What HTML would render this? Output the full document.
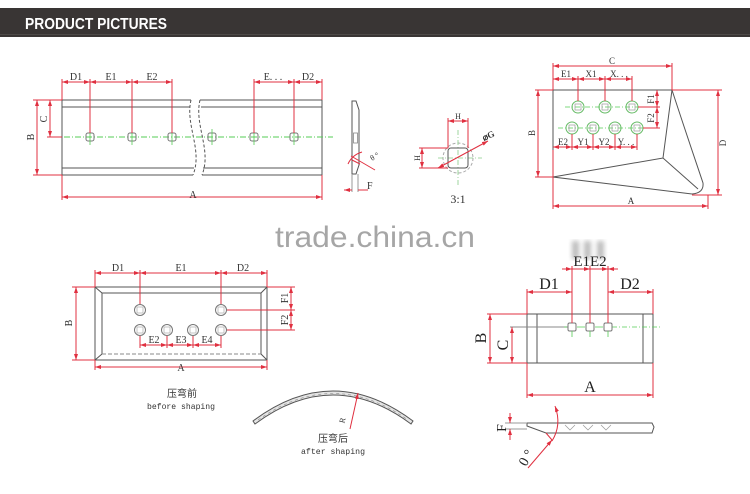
<!DOCTYPE html>
<html><head><meta charset="utf-8"><style>
html,body{margin:0;padding:0;background:#fff;}
svg{display:block;}
</style></head><body>
<svg width="750" height="494" viewBox="0 0 750 494" xmlns="http://www.w3.org/2000/svg">
<defs>
<marker id="a" viewBox="0 0 6 4" refX="6" refY="2" markerWidth="6" markerHeight="4" orient="auto-start-reverse" markerUnits="userSpaceOnUse"><path d="M0,0 L6,2 L0,4z" fill="#e03040"/></marker>
<filter id="bl"><feGaussianBlur stdDeviation="2.5"/></filter>
</defs>
<rect width="750" height="494" fill="#fff"/>
<!-- header -->
<rect x="0" y="8" width="750" height="29" fill="#393534"/>
<line x1="0" y1="34.5" x2="750" y2="34.5" stroke="#4d4947" stroke-width="1"/>
<text x="25" y="29" font-family="Liberation Sans, sans-serif" font-weight="bold" font-size="16" fill="#fff" textLength="142" lengthAdjust="spacingAndGlyphs">PRODUCT PICTURES</text>

<!-- watermark -->
<text x="275" y="247" font-family="Liberation Sans, sans-serif" font-size="30" fill="#a6a6a6" textLength="200" lengthAdjust="spacingAndGlyphs">trade.china.cn</text>
<g filter="url(#bl)" opacity="0.55">
<rect x="572" y="241" width="7" height="18" fill="#888"/>
<rect x="584" y="241" width="7" height="18" fill="#888"/>
<rect x="597" y="241" width="7" height="18" fill="#888"/>
</g>

<g font-family="Liberation Serif, serif" fill="#333">
<!-- ============ Diagram 1: long plate ============ -->
<g stroke="#555" stroke-width="1" fill="none">
<path d="M62,100 H191 M200,100 H322 M62,107 H190 M201,107 H322 M62,168 H194 M203,168 H322 M62,175 H193 M202,175 H322 M62,100 V175 M322,100 V175"/>
<path d="M191,100 C185,125 203,150 193,175" stroke-dasharray="3,2"/>
<path d="M200,100 C194,125 212,150 202,175" stroke-dasharray="3,2"/>
</g>
<line x1="64" y1="137" x2="333" y2="137" stroke="#5c5" stroke-width="1" stroke-dasharray="6,2,1,2"/>
<g stroke="#777" stroke-width="1" fill="none">
<rect x="86" y="133" width="8" height="8" rx="2"/><rect x="128" y="133" width="8" height="8" rx="2"/><rect x="168" y="133" width="8" height="8" rx="2"/>
<rect x="208" y="133" width="8" height="8" rx="2"/><rect x="250" y="133" width="8" height="8" rx="2"/><rect x="290" y="133" width="8" height="8" rx="2"/>
</g>
<g stroke="#5c5" stroke-width="0.8"><path d="M90,129 V145 M132,129 V145 M172,129 V145 M212,129 V145 M254,129 V145 M294,129 V145"/></g>
<g stroke="#e03040" stroke-width="1" fill="none">
<path d="M62,79 V100 M322,79 V100 M90,79 V133 M132,79 V133 M172,79 V133 M254,79 V133 M294,79 V133"/>
<path d="M33,100 H62 M33,175 H62 M47,137 H62 M62,175 V200 M322,175 V200"/>
<path d="M62,82 H90" marker-start="url(#a)" marker-end="url(#a)"/>
<path d="M90,82 H132" marker-start="url(#a)" marker-end="url(#a)"/>
<path d="M132,82 H172" marker-start="url(#a)" marker-end="url(#a)"/>
<path d="M254,82 H294" marker-start="url(#a)" marker-end="url(#a)"/>
<path d="M294,82 H322" marker-start="url(#a)" marker-end="url(#a)"/>
<path d="M37,100 V175" marker-start="url(#a)" marker-end="url(#a)"/>
<path d="M50,100 V137" marker-start="url(#a)" marker-end="url(#a)"/>
<path d="M62,197 H322" marker-start="url(#a)" marker-end="url(#a)"/>
</g>
<g font-size="10" text-anchor="middle">
<text x="76" y="80">D1</text><text x="111" y="80">E1</text><text x="152" y="80">E2</text>
<text x="273" y="80">E. . .</text><text x="308" y="80">D2</text>
<text x="193" y="198">A</text>
<text transform="translate(34,137) rotate(-90)">B</text>
<text transform="translate(47,119) rotate(-90)">C</text>
</g>

<!-- side view 1 -->
<path d="M352,101 L356,101 L359,110 L359,165 L356,174 L352,174 Z" fill="none" stroke="#555"/>
<rect x="353.5" y="133" width="4" height="10" fill="none" stroke="#888" stroke-width="0.8"/>
<g stroke="#e03040" stroke-width="1" fill="none">
<path d="M351,156 L375,170"/>
<path d="M352,160 L360,164"/>
<path d="M348,164 Q352,155 362,152"/>
<path d="M352,174 V192 M358,174 V192" stroke="#999"/>
<path d="M344,190 H352 M358,190 H368" marker-start="url(#a)"/>
</g>
<text x="372" y="161" font-size="8" transform="rotate(-30 372 161)">θ °</text>
<text x="367" y="189" font-size="10">F</text>

<!-- detail 3:1 -->
<circle cx="458" cy="158" r="15" fill="none" stroke="#aaa" stroke-dasharray="3,2"/>
<path d="M438,158 H482 M458,130 V186" stroke="#8c8" stroke-width="0.8" stroke-dasharray="5,2,1,2"/>
<rect x="448" y="148" width="20" height="20" rx="3" fill="none" stroke="#555"/>
<g stroke="#e03040" stroke-width="1" fill="none">
<path d="M448,118 V148 M468,118 V148 M419,148 H448 M419,168 H448"/>
<path d="M448,121 H468" marker-start="url(#a)" marker-end="url(#a)"/>
<path d="M422,148 V168" marker-start="url(#a)" marker-end="url(#a)"/>
<path d="M438,168 L488,141" marker-start="url(#a)" marker-end="url(#a)"/>
</g>
<text x="458" y="119" font-size="8" text-anchor="middle">H</text>
<text transform="translate(420,158) rotate(-90)" font-size="8" text-anchor="middle">H</text>
<text x="484" y="141" font-size="9" font-weight="bold" transform="rotate(-25 484 141)">⌀G</text>
<text x="458" y="203" font-size="12" text-anchor="middle">3:1</text>

<!-- triangle blade -->
<g stroke="#555" stroke-width="1" fill="none">
<path d="M553,90 H672 M553,90 V177 L692,194 M672,90 C685,130 697,165 703,183 Q704,193 692,194 M672,90 L663,158 M553,177 L663,158 L698,189"/>
</g>
<g stroke="#5c5" stroke-width="0.8" stroke-dasharray="5,2,1,2"><path d="M565,107 H640 M558,128 H646"/></g>
<g stroke="#6b6" stroke-width="1" fill="none">
<circle cx="578" cy="107" r="6"/><circle cx="605" cy="107" r="6"/><circle cx="632" cy="107" r="6"/>
<circle cx="572" cy="128" r="6"/><circle cx="593" cy="128" r="6"/><circle cx="615" cy="128" r="6"/><circle cx="637" cy="128" r="6"/>
</g>
<g stroke="#999" stroke-width="0.7" fill="none">
<rect x="575" y="104" width="6" height="6"/><rect x="602" y="104" width="6" height="6"/><rect x="629" y="104" width="6" height="6"/>
<rect x="569" y="125" width="6" height="6"/><rect x="590" y="125" width="6" height="6"/><rect x="612" y="125" width="6" height="6"/><rect x="634" y="125" width="6" height="6"/>
</g>
<g stroke="#e03040" stroke-width="1" fill="none">
<path d="M553,63 V90 M672,63 V90 M578,76 V101 M605,76 V101 M632,76 V101 M553,76 V90"/>
<path d="M572,134 V150 M593,134 V150 M615,134 V150 M637,134 V150 M553,177 V150"/>
<path d="M638,107 H660 M643,128 H660 M672,90 H722 M692,195 H722 M535,90 H553 M535,177 H553 M553,177 V209 M708,195 V209"/>
<path d="M553,66 H672" marker-start="url(#a)" marker-end="url(#a)"/>
<path d="M553,79 H578" marker-start="url(#a)" marker-end="url(#a)"/>
<path d="M578,79 H605" marker-start="url(#a)" marker-end="url(#a)"/>
<path d="M605,79 H632" marker-start="url(#a)" marker-end="url(#a)"/>
<path d="M553,147 H572" marker-start="url(#a)" marker-end="url(#a)"/>
<path d="M572,147 H593" marker-start="url(#a)" marker-end="url(#a)"/>
<path d="M593,147 H615" marker-start="url(#a)" marker-end="url(#a)"/>
<path d="M615,147 H637" marker-start="url(#a)" marker-end="url(#a)"/>
<path d="M657,90 V107" marker-start="url(#a)" marker-end="url(#a)"/>
<path d="M657,107 V128" marker-start="url(#a)" marker-end="url(#a)"/>
<path d="M538,90 V177" marker-start="url(#a)" marker-end="url(#a)"/>
<path d="M718,90 V195" marker-start="url(#a)" marker-end="url(#a)"/>
<path d="M553,206 H708" marker-start="url(#a)" marker-end="url(#a)"/>
</g>
<g font-size="9" text-anchor="middle">
<text x="612" y="64">C</text>
<text x="566" y="77">E1</text><text x="591" y="77">X1</text><text x="619" y="77">X. . .</text>
<text x="563" y="145">E2</text><text x="583" y="145">Y1</text><text x="604" y="145">Y2</text><text x="626" y="145">Y. . .</text>
<text x="631" y="204">A</text>
<text transform="translate(535,133) rotate(-90)">B</text>
<text transform="translate(654,99) rotate(-90)">F1</text>
<text transform="translate(654,118) rotate(-90)">F2</text>
<text transform="translate(726,143) rotate(-90)">D</text>
</g>

<!-- ============ bottom-left plate ============ -->
<g stroke="#555" stroke-width="1" fill="none">
<rect x="95" y="287" width="172" height="73"/>
<path d="M102,293 H261 V354 M102,293 V354 M95,287 L102,293 M267,287 L261,293 M95,360 L102,354 M267,360 L261,354"/>
<path d="M102,354 H261" stroke-dasharray="4,2" stroke="#888"/>
</g>
<g stroke="#777" stroke-width="1" fill="none">
<circle cx="140" cy="310" r="5.5"/><circle cx="221" cy="310" r="5.5"/>
<circle cx="140" cy="330" r="5.5"/><circle cx="167" cy="330" r="5.5"/><circle cx="193" cy="330" r="5.5"/><circle cx="221" cy="330" r="5.5"/>
</g>
<g stroke="#aaa" stroke-width="0.7" fill="none">
<rect x="137" y="307" width="6" height="6"/><rect x="218" y="307" width="6" height="6"/>
<rect x="137" y="327" width="6" height="6"/><rect x="164" y="327" width="6" height="6"/><rect x="190" y="327" width="6" height="6"/><rect x="218" y="327" width="6" height="6"/>
</g>
<g stroke="#e03040" stroke-width="1" fill="none">
<path d="M95,270 V287 M267,270 V287 M140,270 V304 M221,270 V304"/>
<path d="M140,336 V348 M167,336 V348 M193,336 V348 M221,336 V348"/>
<path d="M267,287 H295 M227,310 H295 M227,330 H295 M72,287 H95 M72,360 H95 M95,360 V370 M267,360 V370"/>
<path d="M95,273 H140" marker-start="url(#a)" marker-end="url(#a)"/>
<path d="M140,273 H221" marker-start="url(#a)" marker-end="url(#a)"/>
<path d="M221,273 H267" marker-start="url(#a)" marker-end="url(#a)"/>
<path d="M140,345 H167" marker-start="url(#a)" marker-end="url(#a)"/>
<path d="M167,345 H193" marker-start="url(#a)" marker-end="url(#a)"/>
<path d="M193,345 H221" marker-start="url(#a)" marker-end="url(#a)"/>
<path d="M291,287 V310" marker-start="url(#a)" marker-end="url(#a)"/>
<path d="M291,310 V330" marker-start="url(#a)" marker-end="url(#a)"/>
<path d="M76,287 V360" marker-start="url(#a)" marker-end="url(#a)"/>
<path d="M95,367 H267" marker-start="url(#a)" marker-end="url(#a)"/>
</g>
<g font-size="10" text-anchor="middle">
<text x="118" y="271">D1</text><text x="181" y="271">E1</text><text x="243" y="271">D2</text>
<text x="154" y="343">E2</text><text x="181" y="343">E3</text><text x="207" y="343">E4</text>
<text x="181" y="371">A</text>
<text transform="translate(72,323) rotate(-90)">B</text>
<text transform="translate(288,298) rotate(-90)">F1</text>
<text transform="translate(288,320) rotate(-90)">F2</text>
</g>
<text x="182" y="397" font-family="Liberation Sans, 'Noto Sans CJK SC', sans-serif" font-size="10" text-anchor="middle" fill="#333">压弯前</text>
<text x="181" y="409" font-family="Liberation Mono, monospace" font-size="8.5" text-anchor="middle" fill="#333" textLength="68" lengthAdjust="spacingAndGlyphs">before shaping</text>

<!-- after shaping arc -->
<path d="M253,421 Q333,361 413,421 L411,424 Q333,366 255,424 Z" fill="#e4e4e4" stroke="#555" stroke-width="1"/>
<path d="M258,420 Q333,367 408,420" fill="none" stroke="#888" stroke-width="0.6" stroke-dasharray="3,3"/>
<path d="M350,429 L358,393" stroke="#e03040" stroke-width="1" marker-end="url(#a)"/>
<text transform="translate(345,421) rotate(-75)" font-size="8" text-anchor="middle">R</text>
<text x="333" y="442" font-family="Liberation Sans, 'Noto Sans CJK SC', sans-serif" font-size="10" text-anchor="middle" fill="#333">压弯后</text>
<text x="333" y="454" font-family="Liberation Mono, monospace" font-size="8.5" text-anchor="middle" fill="#333" textLength="64" lengthAdjust="spacingAndGlyphs">after shaping</text>

<!-- ============ bottom-right plate ============ -->
<g stroke="#555" stroke-width="1" fill="none">
<rect x="527" y="314" width="126" height="49"/>
<path d="M537,314 V363 M643,314 V363"/>
</g>
<path d="M510,327 H568" stroke="#888" stroke-width="1"/>
<path d="M612,327 H662" stroke="#5c5" stroke-width="0.8" stroke-dasharray="5,2,1,2"/>
<g stroke="#777" stroke-width="1" fill="none">
<rect x="568" y="323" width="8" height="8" rx="1.5"/><rect x="586" y="323" width="8" height="8" rx="1.5"/><rect x="604" y="323" width="8" height="8" rx="1.5"/>
</g>
<g stroke="#5c5" stroke-width="0.8"><path d="M572,331 V337 M590,331 V337 M608,331 V337 M564,327 H567 M577,327 H585 M595,327 H603"/></g>
<g stroke="#e03040" stroke-width="1" fill="none">
<path d="M572,266 V323 M590,266 V323 M608,266 V323 M527,289 V314 M653,289 V314"/>
<path d="M487,314 H527 M487,363 H527 M527,363 V398 M653,363 V398"/>
<path d="M562,269 H572" marker-end="url(#a)"/>
<path d="M572,269 H590" marker-end="url(#a)"/>
<path d="M590,269 H608" marker-end="url(#a)"/>
<path d="M618,269 H608" marker-end="url(#a)"/>
<path d="M527,292 H572" marker-start="url(#a)" marker-end="url(#a)"/>
<path d="M608,292 H653" marker-start="url(#a)" marker-end="url(#a)"/>
<path d="M490,314 V363" marker-start="url(#a)" marker-end="url(#a)"/>
<path d="M512,327 V363" marker-start="url(#a)" marker-end="url(#a)"/>
<path d="M527,395 H653" marker-start="url(#a)" marker-end="url(#a)"/>
</g>
<g font-size="16" text-anchor="middle" fill="#222">
<text x="590" y="266" font-size="15">E1E2</text>
<text x="549" y="289">D1</text><text x="630" y="289">D2</text>
<text x="590" y="392">A</text>
<text transform="translate(486,338) rotate(-90)">B</text>
<text transform="translate(508,345) rotate(-90)">C</text>
</g>

<!-- bottom-right side view -->
<path d="M527,423 L652,423 L654,427 L652,433 L546,433 L527,426 Z" fill="none" stroke="#555" stroke-width="1"/>
<path d="M505,423 H527 M505,429 H527" stroke="#999" stroke-width="1"/>
<g stroke="#999" stroke-width="0.7" fill="none">
<path d="M565,425 L570,430 L575,425 M583,425 L588,430 L593,425 M601,425 L606,430 L611,425"/>
</g>
<g stroke="#e03040" stroke-width="1" fill="none">
<path d="M510,413 V423" marker-end="url(#a)"/>
<path d="M510,440 V429" marker-end="url(#a)"/>
<path d="M552,441 Q562,425 555,406" marker-end="url(#a)"/>
<path d="M528,468 L552,440" marker-end="url(#a)"/>
<path d="M546,433 L552,440"/>
</g>
<text transform="translate(506,428) rotate(-90)" font-size="14" text-anchor="middle" fill="#222">F</text>
<text transform="translate(530,460) rotate(-60)" font-size="14" text-anchor="middle" fill="#222">0 °</text>
</g>
</svg>
</body></html>
